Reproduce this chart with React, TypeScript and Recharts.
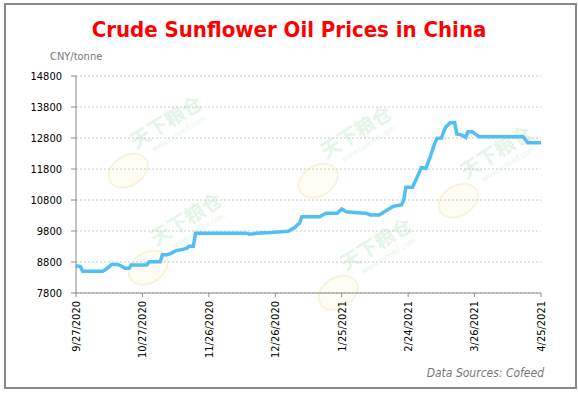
import { CartesianGrid, Line, LineChart, XAxis, YAxis } from "recharts";

// days counted from 9/27/2020
const dayOffsets = [
  0, 2, 3, 12, 13, 15, 16, 19, 21, 22, 24, 25, 32, 33, 38, 39, 41, 43, 45, 50, 51, 53, 54,
  77, 78, 80, 81, 88, 94, 96, 98, 99, 100, 101, 102, 110, 112, 113, 118, 120, 122, 127, 131,
  133, 137, 140, 143, 145, 147, 148, 149, 152, 154, 156, 158, 160, 162, 163, 165, 166, 167,
  169, 171, 172, 174, 176, 177, 179, 182, 202, 204, 210,
];
const prices = [
  8680, 8650, 8500, 8500, 8540, 8650, 8720, 8720, 8650, 8600, 8600, 8700, 8700, 8810, 8810,
  9030, 9030, 9080, 9160, 9240, 9310, 9310, 9730, 9730, 9700, 9700, 9730, 9750, 9780, 9800,
  9880, 9920, 10000, 10050, 10260, 10260, 10340, 10370, 10370, 10510, 10420, 10390, 10370,
  10320, 10320, 10450, 10585, 10620, 10640, 10800, 11210, 11210, 11530, 11850, 11820, 12200,
  12630, 12790, 12800, 13000, 13150, 13290, 13300, 12930, 12900, 12820, 13000, 13000, 12840,
  12840, 12650, 12650,
];
const xTicks = [0, 30, 60, 90, 120, 150, 180, 210];
const xTickLabels = [
  "9/27/2020", "10/27/2020", "11/26/2020", "12/26/2020",
  "1/25/2021", "2/24/2021", "3/26/2021", "4/25/2021",
];
const yTicks = [7800, 8800, 9800, 10800, 11800, 12800, 13800, 14800];

const data = dayOffsets.map((d, i) => ({ day: d, price: prices[i] }));

const FONT = "Tahoma, 'DejaVu Sans Condensed', 'DejaVu Sans', sans-serif";

function DateTick(props: any) {
  const { x, y, payload } = props;
  const idx = xTicks.indexOf(payload.value);
  return (
    <text
      transform={`translate(${x},${y + 2}) rotate(-90)`}
      textAnchor="end"
      dy="0.35em"
      fontSize={11}
      fontFamily={FONT}
      fill="#000"
    >
      {xTickLabels[idx]}
    </text>
  );
}

// faint background logo, decoration only
function Watermark({ cx, cy }: { cx: number; cy: number }) {
  return (
    <g transform={`translate(${cx},${cy}) rotate(-32)`} opacity={0.75}>
      <text x={0} y={0} textAnchor="middle" fontSize={20} fontWeight="bold"
        fontFamily="'Noto Sans CJK SC', sans-serif" fill="#dcf1e0">
        天下粮仓
      </text>
      <text x={4} y={12} textAnchor="middle" fontSize={8} fontFamily={FONT} fill="#e2f3e5">
        www.cofeed.com
      </text>
      <ellipse cx={-58} cy={14} rx={21} ry={15} fill="#fefcf0" stroke="#f5f1d2" strokeWidth={2} />
    </g>
  );
}

export default function App() {
  return (
    <div style={{ position: "absolute", left: 0, top: 0, width: 578, height: 393, background: "#fff" }}>
      <div style={{ position: "absolute", left: 4, top: 3, width: 569, height: 382, border: "2px solid #888" }} />
      <svg width={578} height={393} style={{ position: "absolute", left: 0, top: 0 }}>
        <Watermark cx={170} cy={128} />
        <Watermark cx={360} cy={138} />
        <Watermark cx={500} cy={158} />
        <Watermark cx={190} cy={225} />
        <Watermark cx={380} cy={250} />
      </svg>
      <div
        style={{
          position: "absolute", left: 0, top: 17, width: 578, textAlign: "center",
          color: "#ff0000", fontWeight: "bold", fontSize: 22, fontFamily: FONT, lineHeight: "26px",
        }}
      >
        Crude Sunflower Oil Prices in China
      </div>
      <div style={{ position: "absolute", left: 50, top: 50, fontSize: 11, color: "#777", fontFamily: FONT }}>
        CNY/tonne
      </div>
      <div
        style={{
          position: "absolute", right: 34, top: 366, fontSize: 12, color: "#777",
          fontStyle: "italic", fontFamily: FONT,
        }}
      >
        Data Sources: Cofeed
      </div>
      <div style={{ position: "absolute", left: 0, top: 0 }}>
        <LineChart width={578} height={393} data={data} margin={{ top: 76, right: 37, left: 0, bottom: 30 }}>
          <CartesianGrid vertical={false} stroke="#c8c8c8" strokeDasharray="2 2" />
          <XAxis
            dataKey="day"
            type="number"
            domain={[0, 210]}
            ticks={xTicks}
            height={70}
            tick={<DateTick />}
            tickSize={4}
            stroke="#888"
            interval={0}
          />
          <YAxis
            type="number"
            domain={[7800, 14800]}
            ticks={yTicks}
            width={76}
            tickSize={5}
            tickMargin={9}
            stroke="#888"
            tick={{ fontSize: 11, fill: "#000", fontFamily: FONT }}
            interval={0}
          />
          <Line
            type="linear"
            dataKey="price"
            stroke="#4fbff5"
            strokeWidth={3.5}
            dot={false}
            isAnimationActive={false}
          />
        </LineChart>
      </div>
    </div>
  );
}
